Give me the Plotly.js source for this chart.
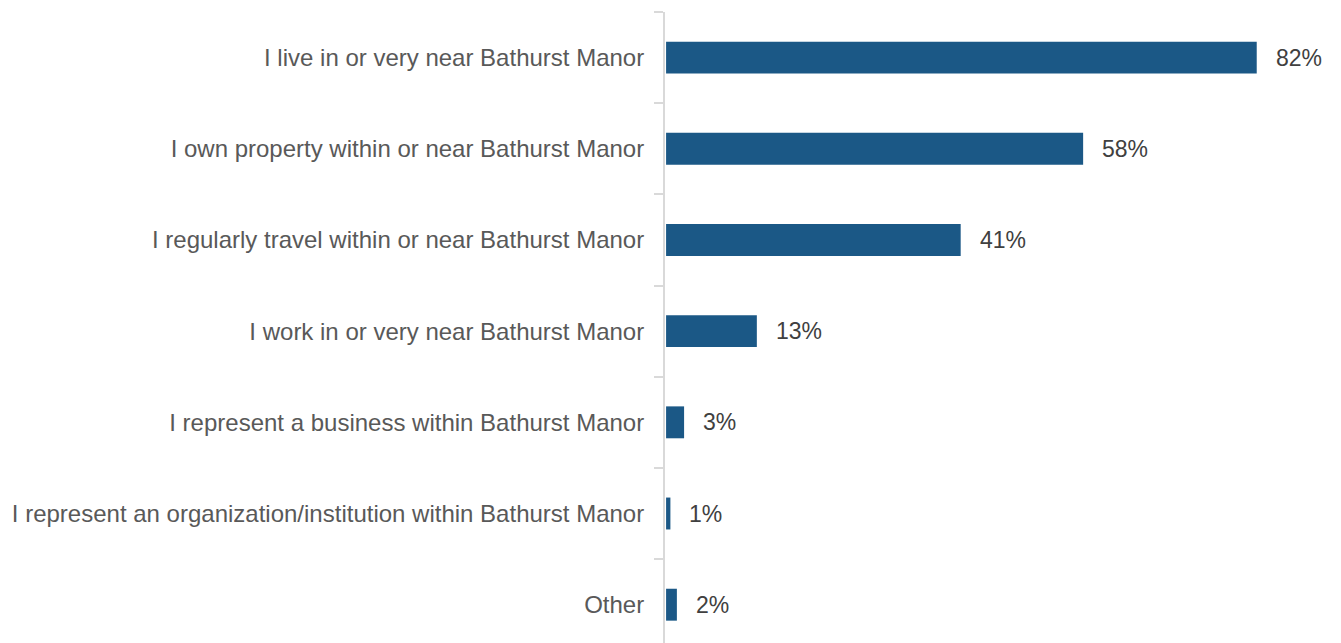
<!DOCTYPE html>
<html>
<head>
<meta charset="utf-8">
<script src="https://cdn.plot.ly/plotly-3.0.1.min.js"></script>
<style>html,body{margin:0;padding:0;background:#fff;}#chart{width:1341px;height:643px;}</style>
</head>
<body>
<div id="chart"></div>
<script>
const categories = [
  "I live in or very near Bathurst Manor",
  "I own property within or near Bathurst Manor",
  "I regularly travel within or near Bathurst Manor",
  "I work in or very near Bathurst Manor",
  "I represent a business within Bathurst Manor",
  "I represent an organization/institution within Bathurst Manor",
  "Other"
];
const values = [82, 57.9, 40.9, 12.6, 2.5, 0.6, 1.5];
const valueLabels = ["82%", "58%", "41%", "13%", "3%", "1%", "2%"];

const trace = {
  type: "bar",
  orientation: "h",
  y: categories,
  x: values,
  width: 0.35,
  marker: {color: "#1b5886"},
  hoverinfo: "skip"
};

const annotations = categories.map((c, i) => ({
  x: values[i], y: c, xref: "x", yref: "y",
  text: valueLabels[i], showarrow: false,
  xanchor: "left", yanchor: "middle", xshift: 17,
  font: {family: "Liberation Sans, Arial, sans-serif", size: 23, color: "#404040"}
}));

const layout = {
  width: 1341, height: 643,
  margin: {l: 665, r: 0, t: 12, b: 0},
  paper_bgcolor: "#ffffff", plot_bgcolor: "#ffffff",
  showlegend: false,
  font: {family: "Liberation Sans, Arial, sans-serif", size: 24, color: "#595959"},
  xaxis: {range: [-0.15, 93.7], visible: false, fixedrange: true},
  yaxis: {
    type: "category",
    range: [6.42, -0.5],
    showline: true, linecolor: "#d9d9d9", linewidth: 2,
    ticks: "outside", tickson: "boundaries", ticklen: 9, tickcolor: "#d9d9d9", tickwidth: 2,
    showgrid: false, zeroline: false,
    tickfont: {family: "Liberation Sans, Arial, sans-serif", size: 24, color: "#595959"},
    ticklabelstandoff: 14,
    automargin: false
  },
  annotations: annotations
};

Plotly.newPlot("chart", [trace], layout, {displayModeBar: false, staticPlot: true});
</script>
</body>
</html>
